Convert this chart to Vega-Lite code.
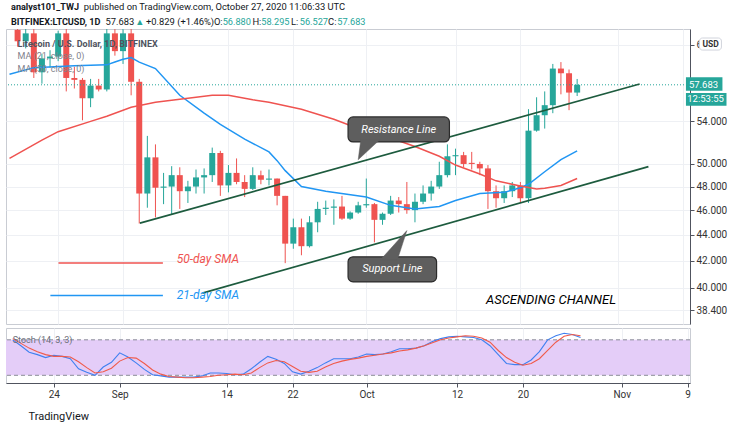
{
"$schema":"https://vega.github.io/schema/vega-lite/v6.json",
"background":"white",
"padding":{"left":5,"top":1,"right":0,"bottom":0},
"config":{"view":{"stroke":"#c9ccd3"},"font":"Roboto","axis":{"labelFont":"Roboto","titleFont":"Roboto"},"text":{"font":"Roboto"}},
"spacing":2,
"resolve":{"scale":{"x":"independent","y":"independent"}},
"datasets":{
"candles":[
{"d":"2020-08-19","o":63.7,"h":64.5,"l":61.8,"c":62.4},
{"d":"2020-08-20","o":62.4,"h":64.2,"l":61.6,"c":63.3},
{"d":"2020-08-21","o":63.3,"h":63.8,"l":58.4,"c":59.0},
{"d":"2020-08-22","o":59.0,"h":61.0,"l":57.8,"c":60.5},
{"d":"2020-08-23","o":60.5,"h":61.4,"l":59.5,"c":60.7},
{"d":"2020-08-24","o":60.7,"h":63.6,"l":60.2,"c":63.3},
{"d":"2020-08-25","o":63.3,"h":63.8,"l":57.0,"c":58.4},
{"d":"2020-08-26","o":58.4,"h":59.6,"l":57.3,"c":58.2},
{"d":"2020-08-27","o":58.2,"h":58.4,"l":54.1,"c":56.3},
{"d":"2020-08-28","o":56.3,"h":58.3,"l":55.4,"c":57.6},
{"d":"2020-08-29","o":57.6,"h":58.3,"l":57.0,"c":57.2},
{"d":"2020-08-30","o":57.2,"h":64.0,"l":57.0,"c":63.3},
{"d":"2020-08-31","o":63.3,"h":64.5,"l":60.8,"c":61.3},
{"d":"2020-09-01","o":61.3,"h":64.3,"l":59.9,"c":63.3},
{"d":"2020-09-02","o":63.3,"h":64.0,"l":56.6,"c":58.0},
{"d":"2020-09-03","o":58.0,"h":58.3,"l":44.9,"c":47.4},
{"d":"2020-09-04","o":47.4,"h":52.6,"l":46.2,"c":50.6},
{"d":"2020-09-05","o":50.6,"h":51.8,"l":45.4,"c":47.9},
{"d":"2020-09-06","o":47.9,"h":49.2,"l":46.5,"c":48.0},
{"d":"2020-09-07","o":48.0,"h":49.8,"l":45.6,"c":49.0},
{"d":"2020-09-08","o":49.0,"h":49.7,"l":46.1,"c":47.6},
{"d":"2020-09-09","o":47.6,"h":48.5,"l":46.6,"c":48.0},
{"d":"2020-09-10","o":48.0,"h":49.5,"l":47.4,"c":48.8},
{"d":"2020-09-11","o":48.8,"h":49.6,"l":47.4,"c":49.0},
{"d":"2020-09-12","o":49.0,"h":51.5,"l":48.4,"c":51.0},
{"d":"2020-09-13","o":51.0,"h":51.2,"l":47.2,"c":48.1},
{"d":"2020-09-14","o":48.1,"h":49.9,"l":47.5,"c":49.2},
{"d":"2020-09-15","o":49.2,"h":50.5,"l":48.2,"c":48.4},
{"d":"2020-09-16","o":48.4,"h":49.0,"l":47.1,"c":47.8},
{"d":"2020-09-17","o":47.8,"h":49.7,"l":47.7,"c":49.0},
{"d":"2020-09-18","o":49.0,"h":49.4,"l":48.2,"c":48.6},
{"d":"2020-09-19","o":48.6,"h":49.5,"l":48.1,"c":48.7},
{"d":"2020-09-20","o":48.7,"h":48.7,"l":46.4,"c":47.2},
{"d":"2020-09-21","o":47.2,"h":47.2,"l":41.8,"c":43.3},
{"d":"2020-09-22","o":43.3,"h":45.3,"l":42.9,"c":44.6},
{"d":"2020-09-23","o":44.6,"h":45.3,"l":42.4,"c":43.1},
{"d":"2020-09-24","o":43.1,"h":45.5,"l":43.0,"c":45.0},
{"d":"2020-09-25","o":45.0,"h":46.7,"l":44.2,"c":46.1},
{"d":"2020-09-26","o":46.1,"h":46.8,"l":45.6,"c":46.2},
{"d":"2020-09-27","o":46.2,"h":46.9,"l":44.8,"c":46.3},
{"d":"2020-09-28","o":46.3,"h":47.2,"l":45.2,"c":45.3},
{"d":"2020-09-29","o":45.3,"h":45.9,"l":45.2,"c":45.8},
{"d":"2020-09-30","o":45.8,"h":46.7,"l":45.7,"c":46.4},
{"d":"2020-10-01","o":46.4,"h":48.7,"l":46.2,"c":46.5},
{"d":"2020-10-02","o":46.5,"h":46.6,"l":43.4,"c":45.2},
{"d":"2020-10-03","o":45.2,"h":45.8,"l":44.8,"c":45.7},
{"d":"2020-10-04","o":45.7,"h":47.2,"l":45.6,"c":46.8},
{"d":"2020-10-05","o":46.8,"h":47.1,"l":45.8,"c":46.5},
{"d":"2020-10-06","o":46.5,"h":48.4,"l":45.7,"c":46.0},
{"d":"2020-10-07","o":46.0,"h":47.4,"l":45.0,"c":46.7},
{"d":"2020-10-08","o":46.7,"h":48.1,"l":46.5,"c":47.4},
{"d":"2020-10-09","o":47.4,"h":48.5,"l":46.8,"c":48.0},
{"d":"2020-10-10","o":48.0,"h":50.2,"l":47.8,"c":49.0},
{"d":"2020-10-11","o":49.0,"h":51.8,"l":48.8,"c":50.7},
{"d":"2020-10-12","o":50.7,"h":51.4,"l":49.0,"c":50.8},
{"d":"2020-10-13","o":50.8,"h":51.1,"l":49.7,"c":50.0},
{"d":"2020-10-14","o":50.1,"h":51.1,"l":49.5,"c":50.0},
{"d":"2020-10-15","o":50.0,"h":50.2,"l":49.0,"c":49.6},
{"d":"2020-10-16","o":49.6,"h":49.9,"l":46.1,"c":47.6},
{"d":"2020-10-17","o":47.6,"h":48.1,"l":46.2,"c":47.0},
{"d":"2020-10-18","o":47.0,"h":48.1,"l":46.6,"c":47.6},
{"d":"2020-10-19","o":47.6,"h":48.4,"l":47.1,"c":48.1},
{"d":"2020-10-20","o":48.1,"h":48.4,"l":46.6,"c":47.0},
{"d":"2020-10-21","o":47.0,"h":55.2,"l":46.6,"c":53.1},
{"d":"2020-10-22","o":53.1,"h":56.4,"l":53.0,"c":54.6},
{"d":"2020-10-23","o":54.6,"h":57.0,"l":53.3,"c":55.6},
{"d":"2020-10-24","o":55.6,"h":59.9,"l":54.8,"c":59.4},
{"d":"2020-10-25","o":59.4,"h":60.1,"l":56.7,"c":58.9},
{"d":"2020-10-26","o":58.9,"h":59.3,"l":55.1,"c":56.88},
{"d":"2020-10-27","o":56.88,"h":58.295,"l":56.527,"c":57.683}
],
"ma":[
{"s":"MA21","g":"ma21","d":"2020-08-18","p":58.8},
{"s":"MA21","g":"ma21","d":"2020-08-21","p":59.5},
{"s":"MA21","g":"ma21","d":"2020-08-26","p":59.7},
{"s":"MA21","g":"ma21","d":"2020-08-30","p":59.8},
{"s":"MA21","g":"ma21","d":"2020-08-31","p":60.1},
{"s":"MA21","g":"ma21","d":"2020-09-01","p":60.4},
{"s":"MA21","g":"ma21","d":"2020-09-02","p":60.6},
{"s":"MA21","g":"ma21","d":"2020-09-03","p":60.1},
{"s":"MA21","g":"ma21","d":"2020-09-05","p":59.4},
{"s":"MA21","g":"ma21","d":"2020-09-08","p":56.6},
{"s":"MA21","g":"ma21","d":"2020-09-11","p":54.8},
{"s":"MA21","g":"ma21","d":"2020-09-13","p":53.7},
{"s":"MA21","g":"ma21","d":"2020-09-16","p":52.3},
{"s":"MA21","g":"ma21","d":"2020-09-19","p":51.1},
{"s":"MA21","g":"ma21","d":"2020-09-20","p":50.3},
{"s":"MA21","g":"ma21","d":"2020-09-21","p":49.4},
{"s":"MA21","g":"ma21","d":"2020-09-23","p":48.0},
{"s":"MA21","g":"ma21","d":"2020-09-26","p":47.6},
{"s":"MA21","g":"ma21","d":"2020-10-01","p":47.1},
{"s":"MA21","g":"ma21","d":"2020-10-04","p":46.4},
{"s":"MA21","g":"ma21","d":"2020-10-07","p":46.1},
{"s":"MA21","g":"ma21","d":"2020-10-10","p":46.3},
{"s":"MA21","g":"ma21","d":"2020-10-12","p":46.8},
{"s":"MA21","g":"ma21","d":"2020-10-15","p":47.4},
{"s":"MA21","g":"ma21","d":"2020-10-18","p":47.5},
{"s":"MA21","g":"ma21","d":"2020-10-20","p":47.9},
{"s":"MA21","g":"ma21","d":"2020-10-21","p":48.2},
{"s":"MA21","g":"ma21","d":"2020-10-23","p":49.3},
{"s":"MA21","g":"ma21","d":"2020-10-25","p":50.4},
{"s":"MA21","g":"ma21","d":"2020-10-27","p":51.2},
{"s":"MA50","g":"ma50","d":"2020-08-18","p":50.5},
{"s":"MA50","g":"ma50","d":"2020-08-22","p":52.2},
{"s":"MA50","g":"ma50","d":"2020-08-24","p":53.0},
{"s":"MA50","g":"ma50","d":"2020-08-28","p":54.0},
{"s":"MA50","g":"ma50","d":"2020-08-30","p":54.5},
{"s":"MA50","g":"ma50","d":"2020-09-02","p":55.4},
{"s":"MA50","g":"ma50","d":"2020-09-05","p":55.9},
{"s":"MA50","g":"ma50","d":"2020-09-08","p":56.2},
{"s":"MA50","g":"ma50","d":"2020-09-12","p":56.6},
{"s":"MA50","g":"ma50","d":"2020-09-14","p":56.6},
{"s":"MA50","g":"ma50","d":"2020-09-17","p":56.15},
{"s":"MA50","g":"ma50","d":"2020-09-19","p":55.9},
{"s":"MA50","g":"ma50","d":"2020-09-23","p":55.2},
{"s":"MA50","g":"ma50","d":"2020-09-27","p":54.2},
{"s":"MA50","g":"ma50","d":"2020-09-30","p":53.3},
{"s":"MA50","g":"ma50","d":"2020-10-04","p":52.4},
{"s":"MA50","g":"ma50","d":"2020-10-07","p":51.6},
{"s":"MA50","g":"ma50","d":"2020-10-10","p":50.7},
{"s":"MA50","g":"ma50","d":"2020-10-12","p":49.9},
{"s":"MA50","g":"ma50","d":"2020-10-15","p":49.1},
{"s":"MA50","g":"ma50","d":"2020-10-17","p":48.5},
{"s":"MA50","g":"ma50","d":"2020-10-20","p":48.05},
{"s":"MA50","g":"ma50","d":"2020-10-22","p":47.8},
{"s":"MA50","g":"ma50","d":"2020-10-23","p":47.85},
{"s":"MA50","g":"ma50","d":"2020-10-25","p":48.1},
{"s":"MA50","g":"ma50","d":"2020-10-27","p":48.7},
{"s":"MA50","g":"leg50","d":"2020-08-24T01:00:00Z","p":41.82},
{"s":"MA50","g":"leg50","d":"2020-09-05T22:00:00Z","p":41.82},
{"s":"MA21","g":"leg21","d":"2020-08-23T01:00:00Z","p":39.42},
{"s":"MA21","g":"leg21","d":"2020-09-05T22:00:00Z","p":39.42}
],
"channel":[
{"line":"resistance","d":"2020-09-03T02:00:00Z","p":44.93},
{"line":"resistance","d":"2020-11-03T17:00:00Z","p":57.77},
{"line":"support","d":"2020-09-10T19:00:00Z","p":39.6},
{"line":"support","d":"2020-11-04T19:00:00Z","p":49.76}
],
"boxes":[
{"id":"resistance","d":"2020-09-28T18:00:00Z","d2":"2020-10-11T06:00:00Z","p":54.43,"p2":52.03},
{"id":"support","d":"2020-09-28T18:00:00Z","d2":"2020-10-09T16:00:00Z","p":42.28,"p2":40.41}
],
"pointers":[
{"id":"resistance","i":0,"d":"2020-09-30T08:00:00Z","p":52.3},
{"id":"resistance","i":1,"d":"2020-10-02T18:00:00Z","p":52.3},
{"id":"resistance","i":2,"d":"2020-09-30T00:00:00Z","p":50.39},
{"id":"support","i":0,"d":"2020-10-02T18:00:00Z","p":42.05},
{"id":"support","i":1,"d":"2020-10-04T20:00:00Z","p":42.05},
{"id":"support","i":2,"d":"2020-10-06T00:00:00Z","p":44.33}
],
"callouts":[
{"t":"Resistance Line","d":"2020-10-05T00:00:00Z","p":53.21},
{"t":"Support Line","d":"2020-10-04T05:00:00Z","p":41.33}
],
"smalabels":[
{"s":"MA50","t":"50-day SMA","d":"2020-09-07T15:00:00Z","p":42.12},
{"s":"MA21","t":"21-day SMA","d":"2020-09-07T15:00:00Z","p":39.47}
],
"legend":[
{"r":"symbol","t":"Litecoin / U.S. Dollar, 1D, BITFINEX","d":"2020-08-19","p":62.12},
{"r":"study","t":"MA (21, close, 0)","d":"2020-08-19","p":60.73},
{"r":"study","t":"MA (50, close, 0)","d":"2020-08-19","p":59.38}
],
"header":[
{"role":"name","t":"analyst101_TWJ","d":"2020-08-18T04:30:00Z","p":66.38},
{"role":"info","t":"published on TradingView.com, October 27, 2020 11:06:33 UTC","d":"2020-08-27T04:00:00Z","p":66.38},
{"role":"name","t":"BITFINEX:LTCUSD, 1D","d":"2020-08-18T04:30:00Z","p":64.67},
{"role":"info","t":"57.683","d":"2020-08-29T20:00:00Z","p":64.67},
{"role":"quote","t":"▲","d":"2020-09-02T12:00:00Z","p":64.67},
{"role":"info","t":"+0.829 (+1.46%)","d":"2020-09-03T20:00:00Z","p":64.67},
{"role":"info","t":"O:","d":"2020-09-12T05:00:00Z","p":64.67},
{"role":"quote","t":"56.880","d":"2020-09-13T07:00:00Z","p":64.67},
{"role":"info","t":"H:","d":"2020-09-16T23:00:00Z","p":64.67},
{"role":"quote","t":"58.295","d":"2020-09-18T01:00:00Z","p":64.67},
{"role":"info","t":"L:","d":"2020-09-21T17:00:00Z","p":64.67},
{"role":"quote","t":"56.527","d":"2020-09-22T19:00:00Z","p":64.67},
{"role":"info","t":"C:","d":"2020-09-26T07:00:00Z","p":64.67},
{"role":"quote","t":"57.683","d":"2020-09-27T10:00:00Z","p":64.67}
],
"pricebox":[
{"id":"price","t":"57.683","d":"2020-11-09T10:00:00Z","d2":"2020-11-13T22:00:00Z","p":58.47,"p2":57.07,"td":"2020-11-11T14:00:00Z","tp":57.683},
{"id":"timer","t":"12:53:55","d":"2020-11-09T10:00:00Z","d2":"2020-11-14T10:00:00Z","p":56.84,"p2":55.55,"td":"2020-11-11T20:00:00Z","tp":56.19}
],
"usd":[
{"t":"USD","d":"2020-11-11T02:00:00Z","d2":"2020-11-13T19:00:00Z","p":62.77,"p2":61.42,"td":"2020-11-12T11:00:00Z","tp":62.09}
],
"stoch":[
{"d":"2020-08-19","k":80,"dv":82},{"d":"2020-08-20","k":70,"dv":74},{"d":"2020-08-21","k":59,"dv":66},{"d":"2020-08-22","k":55,"dv":60},
{"d":"2020-08-23","k":50,"dv":55},{"d":"2020-08-24","k":54,"dv":52},{"d":"2020-08-25","k":52,"dv":52},{"d":"2020-08-26","k":48,"dv":51},
{"d":"2020-08-27","k":31,"dv":43},{"d":"2020-08-28","k":25,"dv":33},{"d":"2020-08-29","k":20,"dv":24},{"d":"2020-08-30","k":34,"dv":26},
{"d":"2020-08-31","k":42,"dv":32},{"d":"2020-09-01","k":58,"dv":44},{"d":"2020-09-02","k":51,"dv":50},{"d":"2020-09-03","k":41,"dv":49},
{"d":"2020-09-04","k":30,"dv":40},{"d":"2020-09-05","k":21,"dv":29},{"d":"2020-09-06","k":19,"dv":22},{"d":"2020-09-07","k":17,"dv":18},
{"d":"2020-09-08","k":17,"dv":17},{"d":"2020-09-09","k":17,"dv":16},{"d":"2020-09-10","k":17,"dv":16},{"d":"2020-09-11","k":19,"dv":17},
{"d":"2020-09-12","k":24,"dv":18},{"d":"2020-09-13","k":24,"dv":20},{"d":"2020-09-14","k":23,"dv":21},{"d":"2020-09-15","k":21,"dv":22},
{"d":"2020-09-16","k":22,"dv":21},{"d":"2020-09-17","k":31,"dv":24},{"d":"2020-09-18","k":42,"dv":33},{"d":"2020-09-19","k":52,"dv":41},
{"d":"2020-09-20","k":47,"dv":45},{"d":"2020-09-21","k":40,"dv":43},{"d":"2020-09-22","k":26,"dv":35},{"d":"2020-09-23","k":22,"dv":27},
{"d":"2020-09-24","k":27,"dv":25},{"d":"2020-09-25","k":33,"dv":27},{"d":"2020-09-26","k":41,"dv":34},{"d":"2020-09-27","k":48,"dv":40},
{"d":"2020-09-28","k":48,"dv":44},{"d":"2020-09-29","k":48,"dv":47},{"d":"2020-09-30","k":51,"dv":49},{"d":"2020-10-01","k":56,"dv":52},
{"d":"2020-10-02","k":55,"dv":54},{"d":"2020-10-03","k":56,"dv":56},{"d":"2020-10-04","k":60,"dv":58},{"d":"2020-10-05","k":65,"dv":61},
{"d":"2020-10-06","k":65,"dv":63},{"d":"2020-10-07","k":66,"dv":66},{"d":"2020-10-08","k":70,"dv":70},{"d":"2020-10-09","k":77,"dv":75},
{"d":"2020-10-10","k":82,"dv":80},{"d":"2020-10-11","k":85,"dv":83},{"d":"2020-10-12","k":86,"dv":85},{"d":"2020-10-13","k":85,"dv":87},
{"d":"2020-10-14","k":84,"dv":86},{"d":"2020-10-15","k":80,"dv":83},{"d":"2020-10-16","k":70,"dv":76},{"d":"2020-10-17","k":55,"dv":62},
{"d":"2020-10-18","k":40,"dv":50},{"d":"2020-10-19","k":38,"dv":42},{"d":"2020-10-20","k":38,"dv":37},{"d":"2020-10-21","k":46,"dv":40},
{"d":"2020-10-22","k":60,"dv":48},{"d":"2020-10-23","k":80,"dv":62},{"d":"2020-10-24","k":87,"dv":76},{"d":"2020-10-25","k":91,"dv":86},
{"d":"2020-10-26","k":89,"dv":89},{"d":"2020-10-27","k":84,"dv":87}
]
},
"vconcat":[
{
"width":684,"height":295,
"layer":[
{"data":{"name":"candles"},"mark":{"type":"rule","strokeWidth":1,"clip":true},
 "encoding":{
  "x":{"field":"d","type":"temporal","scale":{"type":"utc","domain":[{"year":2020,"month":8,"date":18,"hours":4,"minutes":28,"utc":true},{"year":2020,"month":11,"date":9,"hours":7,"minutes":12,"utc":true}]},
   "axis":{"values":[{"year":2020,"month":8,"date":24,"utc":true},{"year":2020,"month":9,"date":1,"utc":true},{"year":2020,"month":9,"date":14,"utc":true},{"year":2020,"month":9,"date":22,"utc":true},{"year":2020,"month":10,"date":1,"utc":true},{"year":2020,"month":10,"date":12,"utc":true},{"year":2020,"month":10,"date":20,"utc":true},{"year":2020,"month":11,"date":1,"utc":true},{"year":2020,"month":11,"date":9,"utc":true}],"labels":false,"ticks":false,"domain":false,"grid":true,"gridColor":"#eef0f4","title":null}},
  "y":{"field":"l","type":"quantitative","scale":{"type":"log","domain":[37.45,63.8],"nice":false,"zero":false},
   "axis":{"orient":"right","values":[38.4,40,42,44,46,48,50,54,62],"labelExpr":"datum.value == 62 ? '6' : format(datum.value, '.3f')","title":null,"grid":true,"gridColor":"#eef0f4","domainColor":"#50535e","tickColor":"#50535e","tickSize":4,"labelColor":"#333333","labelFontSize":10,"labelPadding":2}},
  "y2":{"field":"h"},
  "color":{"condition":{"test":"datum.c >= datum.o","value":"#26a69a"},"value":"#ef5350"}}},
{"data":{"name":"candles"},"mark":{"type":"bar","size":6,"clip":true},
 "encoding":{"x":{"field":"d","type":"temporal"},"y":{"field":"o","type":"quantitative"},"y2":{"field":"c"},
  "color":{"condition":{"test":"datum.c >= datum.o","value":"#26a69a"},"value":"#ef5350"}}},
{"data":{"values":[{"v":57.683}]},"mark":{"type":"rule","strokeDash":[1,2],"color":"#26a69a","strokeWidth":1},
 "encoding":{"y":{"field":"v","type":"quantitative"}}},
{"data":{"name":"ma"},"mark":{"type":"line","strokeWidth":1.5,"clip":true},
 "encoding":{"x":{"field":"d","type":"temporal"},"y":{"field":"p","type":"quantitative"},
  "color":{"field":"s","type":"nominal","scale":{"domain":["MA21","MA50"],"range":["#2196f3","#ef5350"]},"legend":null},
  "detail":{"field":"g"}}},
{"data":{"name":"channel"},"mark":{"type":"line","color":"#1d5b3e","strokeWidth":1.7,"clip":true},
 "encoding":{"x":{"field":"d","type":"temporal"},"y":{"field":"p","type":"quantitative"},"detail":{"field":"line"}}},
{"data":{"name":"boxes"},"mark":{"type":"rect","fill":"#5e5e5e","stroke":"#2b2b2b","strokeWidth":1.2,"cornerRadius":5},
 "encoding":{"x":{"field":"d","type":"temporal"},"x2":{"field":"d2"},"y":{"field":"p","type":"quantitative"},"y2":{"field":"p2"}}},
{"data":{"name":"pointers"},"mark":{"type":"line","interpolate":"linear-closed","fill":"#5e5e5e","stroke":"#5e5e5e","strokeWidth":0.5},
 "encoding":{"x":{"field":"d","type":"temporal"},"y":{"field":"p","type":"quantitative"},"detail":{"field":"id"},"order":{"field":"i"}}},
{"data":{"name":"callouts"},"mark":{"type":"text","color":"white","fontSize":11,"fontStyle":"italic","baseline":"middle"},
 "encoding":{"x":{"field":"d","type":"temporal"},"y":{"field":"p","type":"quantitative"},"text":{"field":"t"}}},
{"data":{"name":"smalabels"},"mark":{"type":"text","align":"left","baseline":"middle","fontSize":12,"fontStyle":"italic"},
 "encoding":{"x":{"field":"d","type":"temporal"},"y":{"field":"p","type":"quantitative"},"text":{"field":"t"},
  "color":{"field":"s","type":"nominal","scale":{"domain":["MA21","MA50"],"range":["#2196f3","#ef5350"]},"legend":null}}},
{"data":{"values":[{"t":"ASCENDING CHANNEL","d":"2020-10-15T18:00:00Z","p":39.11}]},"mark":{"type":"text","align":"left","baseline":"middle","fontSize":13,"fontStyle":"italic","color":"#000000"},
 "encoding":{"x":{"field":"d","type":"temporal"},"y":{"field":"p","type":"quantitative"},"text":{"field":"t"}}},
{"data":{"name":"legend"},"transform":[{"filter":"datum.r == 'symbol'"}],"mark":{"type":"text","align":"left","baseline":"middle","fontSize":9,"fontWeight":"bold","color":"#50535e"},
 "encoding":{"x":{"field":"d","type":"temporal"},"y":{"field":"p","type":"quantitative"},"text":{"field":"t"}}},
{"data":{"name":"legend"},"transform":[{"filter":"datum.r == 'study'"}],"mark":{"type":"text","align":"left","baseline":"middle","fontSize":9,"color":"#7f828c"},
 "encoding":{"x":{"field":"d","type":"temporal"},"y":{"field":"p","type":"quantitative"},"text":{"field":"t"}}},
{"data":{"name":"header"},"transform":[{"filter":"datum.role == 'name'"}],"mark":{"type":"text","align":"left","baseline":"middle","fontSize":9.1,"fontWeight":"bold","color":"#131722"},
 "encoding":{"x":{"field":"d","type":"temporal"},"y":{"field":"p","type":"quantitative"},"text":{"field":"t"}}},
{"data":{"name":"header"},"transform":[{"filter":"datum.role == 'info'"}],"mark":{"type":"text","align":"left","baseline":"middle","fontSize":9.4,"color":"#131722"},
 "encoding":{"x":{"field":"d","type":"temporal"},"y":{"field":"p","type":"quantitative"},"text":{"field":"t"}}},
{"data":{"name":"header"},"transform":[{"filter":"datum.role == 'quote'"}],"mark":{"type":"text","align":"left","baseline":"middle","fontSize":9.2,"color":"#26a69a"},
 "encoding":{"x":{"field":"d","type":"temporal"},"y":{"field":"p","type":"quantitative"},"text":{"field":"t"}}},
{"data":{"name":"pricebox"},"mark":{"type":"rect","fill":"#26a69a"},
 "encoding":{"x":{"field":"d","type":"temporal"},"x2":{"field":"d2"},"y":{"field":"p","type":"quantitative"},"y2":{"field":"p2"}}},
{"data":{"name":"pricebox"},"mark":{"type":"text","color":"white","fontSize":9.5,"baseline":"middle"},
 "encoding":{"x":{"field":"td","type":"temporal"},"y":{"field":"tp","type":"quantitative"},"text":{"field":"t"}}},
{"data":{"name":"usd"},"mark":{"type":"rect","fill":"white","stroke":"#d1d4dc","cornerRadius":3},
 "encoding":{"x":{"field":"d","type":"temporal"},"x2":{"field":"d2"},"y":{"field":"p","type":"quantitative"},"y2":{"field":"p2"}}},
{"data":{"name":"usd"},"mark":{"type":"text","color":"#333333","fontSize":8.5,"fontWeight":"bold","baseline":"middle"},
 "encoding":{"x":{"field":"td","type":"temporal"},"y":{"field":"tp","type":"quantitative"},"text":{"field":"t"}}}
]
},
{
"width":684,"height":55,
"layer":[
{"data":{"values":[{"lo":20,"hi":80}]},"mark":{"type":"rect","color":"#e4cdf8"},
 "encoding":{"y":{"field":"lo","type":"quantitative","scale":{"domain":[7,100],"nice":false,"zero":false},"axis":null},"y2":{"field":"hi"}}},
{"data":{"values":[{"lv":80},{"lv":20}]},"mark":{"type":"rule","color":"#8a8d96","strokeDash":[4,3]},
 "encoding":{"y":{"field":"lv","type":"quantitative"}}},
{"data":{"name":"stoch"},"mark":{"type":"line","color":"#3f80f0","strokeWidth":1.1,"clip":true},
 "encoding":{
  "x":{"field":"d","type":"temporal","scale":{"type":"utc","domain":[{"year":2020,"month":8,"date":18,"hours":4,"minutes":28,"utc":true},{"year":2020,"month":11,"date":9,"hours":7,"minutes":12,"utc":true}]},
   "axis":{"values":[{"year":2020,"month":8,"date":24,"utc":true},{"year":2020,"month":9,"date":1,"utc":true},{"year":2020,"month":9,"date":14,"utc":true},{"year":2020,"month":9,"date":22,"utc":true},{"year":2020,"month":10,"date":1,"utc":true},{"year":2020,"month":10,"date":12,"utc":true},{"year":2020,"month":10,"date":20,"utc":true},{"year":2020,"month":11,"date":1,"utc":true},{"year":2020,"month":11,"date":9,"utc":true}],
    "labelExpr":"utcdate(datum.value) == 1 ? utcFormat(datum.value, '%b') : '' + utcdate(datum.value)",
    "grid":true,"gridColor":"#eef0f4","domainColor":"#50535e","tickColor":"#50535e","tickSize":4,"labelColor":"#333333","labelFontSize":10,"labelPadding":2,
    "title":"TradingView","titleAnchor":"start","titleAlign":"left","titleX":22,"titleY":33,"titleBaseline":"middle","titleFontSize":11,"titleFontWeight":"normal","titleColor":"#131722"}},
  "y":{"field":"k","type":"quantitative","axis":{"orient":"right","values":[80,40],"format":".2f","title":null,"grid":false,"domainColor":"#50535e","tickColor":"#50535e","tickSize":4,"labelColor":"#333333","labelFontSize":10}}}},
{"data":{"name":"stoch"},"mark":{"type":"line","color":"#f05a4a","strokeWidth":1.1,"clip":true},
 "encoding":{"x":{"field":"d","type":"temporal"},"y":{"field":"dv","type":"quantitative"}}},
{"data":{"values":[{"t":"Stoch (14, 3, 3)","d":"2020-08-19","v":79.5}]},"mark":{"type":"text","align":"left","baseline":"middle","fontSize":9,"color":"#6a6d78"},
 "encoding":{"x":{"field":"d","type":"temporal"},"y":{"field":"v","type":"quantitative"},"text":{"field":"t"}}}
]
}
]
}
